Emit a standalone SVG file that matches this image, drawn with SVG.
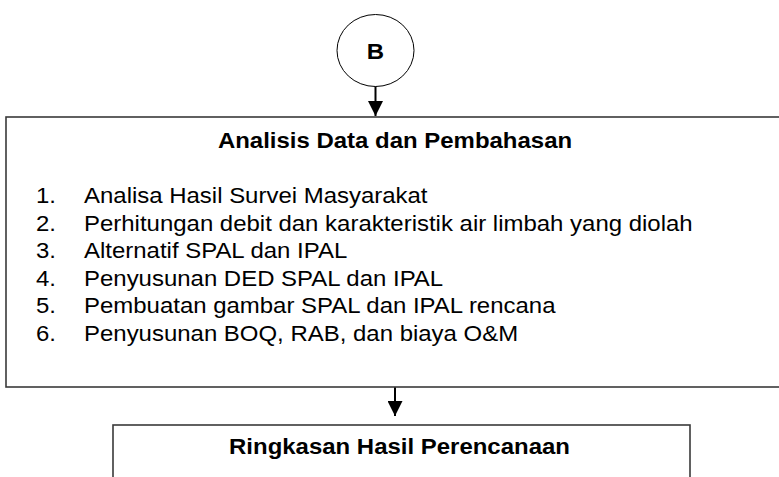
<svg xmlns="http://www.w3.org/2000/svg" width="779" height="477" viewBox="0 0 779 477">
<style>
.box{fill:#fff;stroke:#3a3a3a;stroke-width:1.6}
.t{font-family:"Liberation Sans",Arial,sans-serif;font-size:22.4px;fill:#000}
.b{font-weight:bold}
.conn{stroke:#000;stroke-width:2;fill:none}
</style>
<defs>
<marker id="ah" viewBox="0 0 15 15" refX="15" refY="7.5" markerWidth="15" markerHeight="15" markerUnits="userSpaceOnUse" orient="auto">
<path d="M0,0 L15,7.5 L0,15 Z" fill="#000"/>
</marker>
</defs>
<rect width="779" height="477" fill="#fff"/>
<g id="nodeB">
<ellipse cx="375.5" cy="50.5" rx="38.5" ry="36" fill="#fff" stroke="#000" stroke-width="1"/>
<g transform="translate(375.5,58.5) scale(1.07,1)"><text class="t b" text-anchor="middle" font-size="25">B</text></g>
</g>
<g id="nodeAnalisis">
<rect class="box" x="6" y="117" width="800" height="270"/>
<g transform="translate(395,148) scale(1.07,1)"><text class="t b" text-anchor="middle">Analisis Data dan Pembahasan</text></g>
<g transform="translate(36,203) scale(1.07,1)"><text class="t">1.</text></g>
<g transform="translate(84,203) scale(1.07,1)"><text class="t">Analisa Hasil Survei Masyarakat</text></g>
<g transform="translate(36,230.6) scale(1.07,1)"><text class="t">2.</text></g>
<g transform="translate(84,230.6) scale(1.07,1)"><text class="t">Perhitungan debit dan karakteristik air limbah yang diolah</text></g>
<g transform="translate(36,258.2) scale(1.07,1)"><text class="t">3.</text></g>
<g transform="translate(84,258.2) scale(1.07,1)"><text class="t">Alternatif SPAL dan IPAL</text></g>
<g transform="translate(36,285.8) scale(1.07,1)"><text class="t">4.</text></g>
<g transform="translate(84,285.8) scale(1.07,1)"><text class="t">Penyusunan DED SPAL dan IPAL</text></g>
<g transform="translate(36,313.4) scale(1.07,1)"><text class="t">5.</text></g>
<g transform="translate(84,313.4) scale(1.07,1)"><text class="t">Pembuatan gambar SPAL dan IPAL rencana</text></g>
<g transform="translate(36,341) scale(1.07,1)"><text class="t">6.</text></g>
<g transform="translate(84,341) scale(1.07,1)"><text class="t">Penyusunan BOQ, RAB, dan biaya O&amp;M</text></g>
</g>
<g id="nodeRingkasan">
<rect class="box" x="113" y="425" width="577" height="80"/>
<g transform="translate(399.5,454) scale(1.07,1)"><text class="t b" text-anchor="middle">Ringkasan Hasil Perencanaan</text></g>
</g>
<g id="connectors">
<line class="conn" x1="375.5" y1="86.5" x2="375.5" y2="116" marker-end="url(#ah)"/>
<line class="conn" x1="395" y1="387.5" x2="395" y2="416" marker-end="url(#ah)"/>
</g>
</svg>
